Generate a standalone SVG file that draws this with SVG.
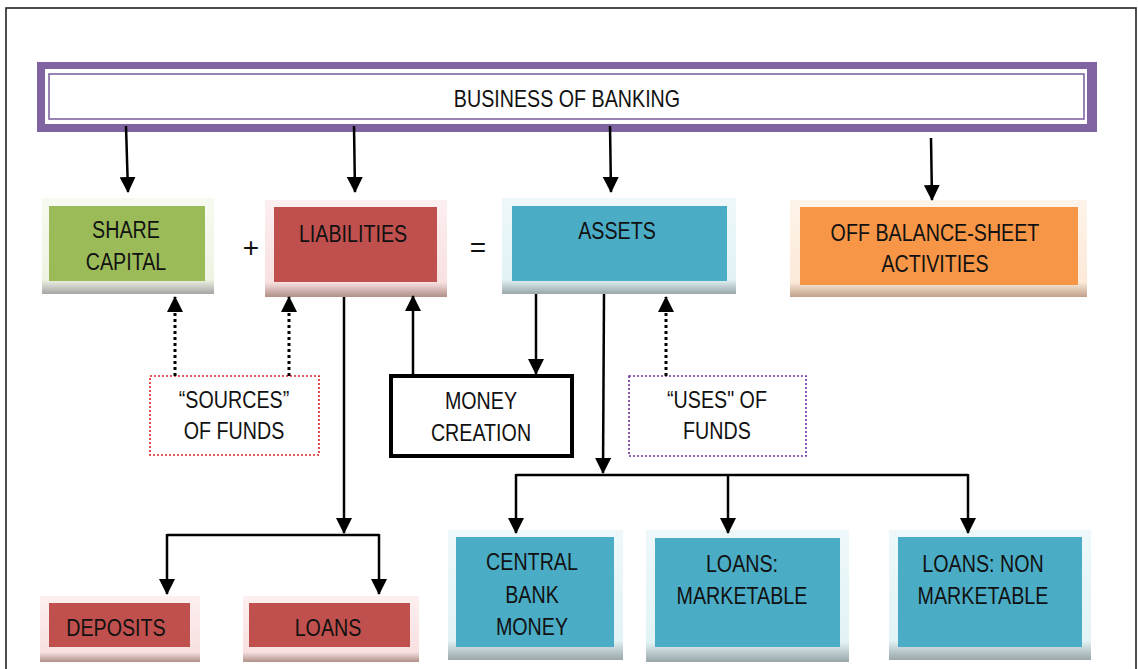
<svg xmlns="http://www.w3.org/2000/svg" width="1138" height="669" viewBox="0 0 1138 669">
<defs>
<marker id="ah" markerUnits="userSpaceOnUse" markerWidth="16" markerHeight="16" refX="15" refY="8" orient="auto">
<path d="M0,0 L16,8 L0,16 z" fill="#000"/>
</marker>
<linearGradient id="gG" x1="0" y1="0" x2="0" y2="1"><stop offset="0" stop-color="#F7FAF0"/><stop offset="0.85" stop-color="#EEF4E4"/><stop offset="1" stop-color="#A6A6A6"/></linearGradient>
<linearGradient id="gR" x1="0" y1="0" x2="0" y2="1"><stop offset="0" stop-color="#FDEFF0"/><stop offset="0.85" stop-color="#F8E0E0"/><stop offset="1" stop-color="#B09088"/></linearGradient>
<linearGradient id="gB" x1="0" y1="0" x2="0" y2="1"><stop offset="0" stop-color="#EEF8FA"/><stop offset="0.85" stop-color="#E2F3F6"/><stop offset="1" stop-color="#9AA6AA"/></linearGradient>
<linearGradient id="gO" x1="0" y1="0" x2="0" y2="1"><stop offset="0" stop-color="#FEF4EA"/><stop offset="0.85" stop-color="#FCE9D8"/><stop offset="1" stop-color="#C0A08A"/></linearGradient>
</defs>
<style>
text{font-family:"Liberation Sans",Arial,sans-serif;font-size:24px;fill:#111;text-anchor:middle}
.op{font-size:28px}
.g{fill:#9BBB59}.r{fill:#C0504D}.b{fill:#4BACC6}.o{fill:#F79646}
.c{fill:none;stroke:#000;stroke-width:2.5}
.d{fill:none;stroke:#000;stroke-width:3;stroke-dasharray:3 3}
</style>
<rect x="6" y="8" width="1130" height="700" fill="#fff" stroke="#222" stroke-width="1.6"/>

<g id="banner">
<rect x="37" y="62" width="1060" height="70" fill="#8064A2"/>
<rect x="45" y="69" width="1042" height="55" fill="#fff"/>
<rect x="49" y="74" width="1035" height="45" fill="#fff" stroke="#8064A2" stroke-width="1.6"/>
<text transform="scale(0.82,1)" x="691.46" y="107">BUSINESS OF BANKING</text>
</g>

<g id="share-capital">
<rect x="42" y="198" width="172" height="96" fill="url(#gG)"/>
<rect x="49" y="206" width="156" height="75" class="g"/>
<text transform="scale(0.82,1)" x="153.66" y="238">SHARE</text>
<text transform="scale(0.82,1)" x="153.66" y="270">CAPITAL</text>
</g>

<g id="plus"><text class="op" x="251" y="257">+</text></g>

<g id="liabilities">
<rect x="265" y="200" width="182" height="97" fill="url(#gR)"/>
<rect x="274" y="207" width="163" height="75" class="r"/>
<text transform="scale(0.82,1)" x="430.49" y="242">LIABILITIES</text>
</g>

<g id="equals"><text class="op" x="478" y="257">=</text></g>

<g id="assets">
<rect x="502" y="198" width="234" height="96" fill="url(#gB)"/>
<rect x="512" y="206" width="215" height="75" class="b"/>
<text transform="scale(0.82,1)" x="752.44" y="239">ASSETS</text>
</g>

<g id="off-balance">
<rect x="790" y="200" width="297" height="97" fill="url(#gO)"/>
<rect x="800" y="207" width="278" height="78" class="o"/>
<text transform="scale(0.82,1)" x="1140.24" y="241">OFF BALANCE-SHEET</text>
<text transform="scale(0.82,1)" x="1140.24" y="272">ACTIVITIES</text>
</g>

<g id="sources">
<rect x="150" y="376" width="169" height="79" fill="#fff" stroke="#E02020" stroke-width="1.6" stroke-dasharray="2 2"/>
<text transform="scale(0.82,1)" x="285.37" y="408">“SOURCES”</text>
<text transform="scale(0.82,1)" x="285.37" y="439">OF FUNDS</text>
</g>

<g id="money-creation">
<rect x="391" y="376" width="181" height="80" fill="#fff" stroke="#000" stroke-width="4"/>
<text transform="scale(0.82,1)" x="586.59" y="409">MONEY</text>
<text transform="scale(0.82,1)" x="586.59" y="441">CREATION</text>
</g>

<g id="uses">
<rect x="629" y="376" width="177" height="80" fill="#fff" stroke="#7030A0" stroke-width="1.6" stroke-dasharray="2 2"/>
<text transform="scale(0.82,1)" x="874.39" y="408">“USES" OF</text>
<text transform="scale(0.82,1)" x="874.39" y="439">FUNDS</text>
</g>

<g id="deposits">
<rect x="40" y="596" width="160" height="66" fill="url(#gR)"/>
<rect x="49" y="603" width="141" height="44" class="r"/>
<text transform="scale(0.82,1)" x="141.46" y="636">DEPOSITS</text>
</g>

<g id="loans">
<rect x="243" y="596" width="176" height="66" fill="url(#gR)"/>
<rect x="249" y="603" width="161" height="44" class="r"/>
<text transform="scale(0.82,1)" x="400" y="636">LOANS</text>
</g>

<g id="central-bank-money">
<rect x="448" y="530" width="175" height="130" fill="url(#gB)"/>
<rect x="456" y="537" width="158" height="110" class="b"/>
<text transform="scale(0.82,1)" x="648.78" y="570">CENTRAL</text>
<text transform="scale(0.82,1)" x="648.78" y="603">BANK</text>
<text transform="scale(0.82,1)" x="648.78" y="635">MONEY</text>
</g>

<g id="loans-marketable">
<rect x="646" y="530" width="203" height="132" fill="url(#gB)"/>
<rect x="655" y="538" width="185" height="109" class="b"/>
<text transform="scale(0.82,1)" x="904.88" y="572">LOANS:</text>
<text transform="scale(0.82,1)" x="904.88" y="604">MARKETABLE</text>
</g>

<g id="loans-non-marketable">
<rect x="889" y="530" width="202" height="130" fill="url(#gB)"/>
<rect x="898" y="537" width="184" height="110" class="b"/>
<text transform="scale(0.82,1)" x="1198.78" y="572">LOANS: NON</text>
<text transform="scale(0.82,1)" x="1198.78" y="604">MARKETABLE</text>
</g>

<g id="connectors">
<path class="c" d="M126,126 L128,192" marker-end="url(#ah)"/>
<path class="c" d="M354,126 L355,192" marker-end="url(#ah)"/>
<path class="c" d="M610,126 L611,192" marker-end="url(#ah)"/>
<path class="c" d="M931,138 L932,200" marker-end="url(#ah)"/>
<path class="d" d="M175,376 L175,297" marker-end="url(#ah)"/>
<path class="d" d="M289,376 L289,297" marker-end="url(#ah)"/>
<path class="d" d="M666,376 L666,297" marker-end="url(#ah)"/>
<path class="c" d="M413,375 L413,296" marker-end="url(#ah)"/>
<path class="c" d="M536,294 L536,374" marker-end="url(#ah)"/>
<path class="c" d="M344,297 L344,533" marker-end="url(#ah)"/>
<path class="c" d="M167,535 L379,535"/>
<path class="c" d="M167,534 L167,594" marker-end="url(#ah)"/>
<path class="c" d="M379,534 L379,594" marker-end="url(#ah)"/>
<path class="c" d="M604,294 L603,473" marker-end="url(#ah)"/>
<path class="c" d="M516,475 L968,475"/>
<path class="c" d="M516,474 L516,533" marker-end="url(#ah)"/>
<path class="c" d="M728,474 L728,533" marker-end="url(#ah)"/>
<path class="c" d="M968,474 L968,533" marker-end="url(#ah)"/>
</g>
</svg>
